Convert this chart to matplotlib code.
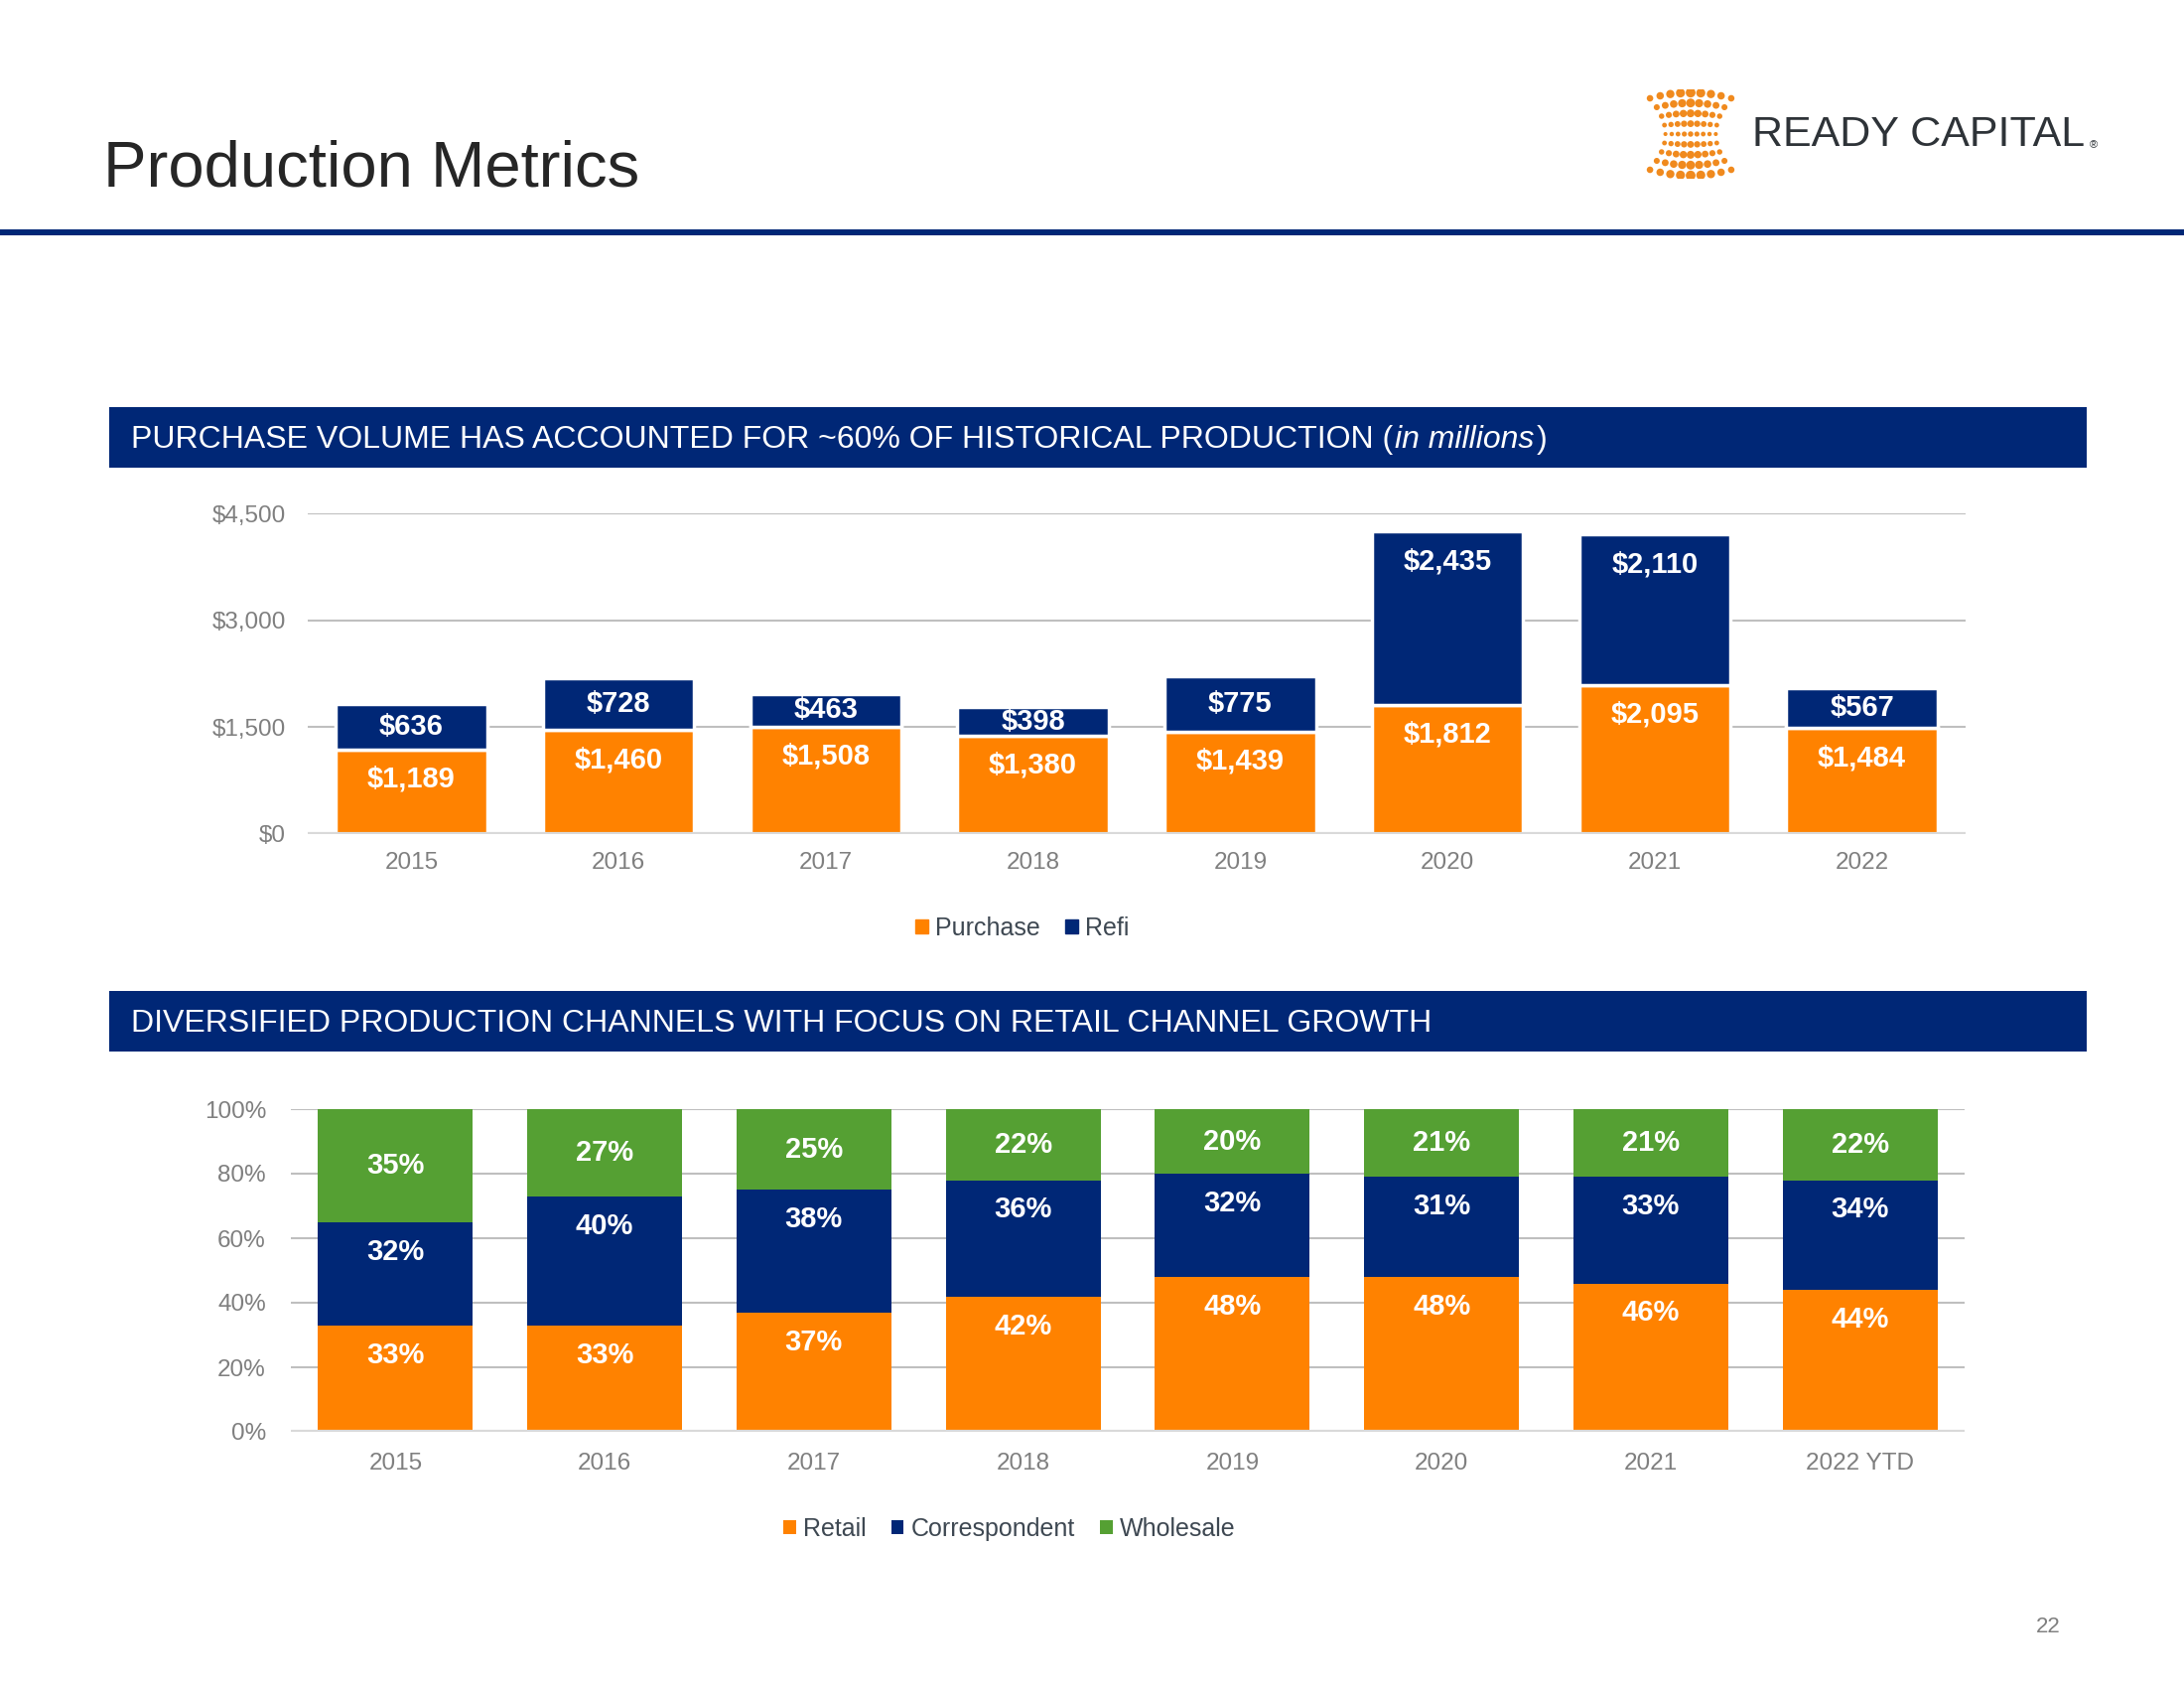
import numpy as np
import matplotlib
matplotlib.use("Agg")
import matplotlib.pyplot as plt
from matplotlib.patches import Rectangle, Patch
from matplotlib.ticker import FuncFormatter

# top chart: purchase / refi volume ($ millions)
years = ["2015", "2016", "2017", "2018", "2019", "2020", "2021", "2022"]
purchase = [1189, 1460, 1508, 1380, 1439, 1812, 2095, 1484]
refi = [636, 728, 463, 398, 775, 2435, 2110, 567]
vol_ticks = [0, 1500, 3000, 4500]

# bottom chart: channel mix (%)
channel_years = ["2015", "2016", "2017", "2018", "2019", "2020", "2021", "2022 YTD"]
retail = [33, 33, 37, 42, 48, 48, 46, 44]
correspondent = [32, 40, 38, 36, 32, 31, 33, 34]
wholesale = [35, 27, 25, 22, 20, 21, 21, 22]
pct_ticks = [0, 20, 40, 60, 80, 100]

ORANGE = "#FF8200"
NAVY = "#002776"
GREEN = "#55A033"
GRID = "#BFBFBF"
TICK = "#7F7F7F"
LEG = "#3E4852"

plt.rcParams["font.family"] = ["Liberation Sans", "DejaVu Sans"]

W, H = 2200, 1700
fig = plt.figure(figsize=(22, 17), dpi=100)
renderer = fig.canvas.get_renderer()


def box(x0, y0, x1, y1):
    # pixel box (top-left origin) -> figure fraction rect
    return [x0 / W, 1 - y1 / H, (x1 - x0) / W, (y1 - y0) / H]


def band(y0, y1):
    fig.add_artist(Rectangle((110 / W, 1 - y1 / H), (2102 - 110) / W, (y1 - y0) / H,
                             transform=fig.transFigure, color=NAVY, lw=0))


# page header
fig.text(104 / W, 1 - 188 / H, "Production Metrics", fontsize=47, color="#262626", va="baseline")
fig.add_artist(Rectangle((0, 1 - 237 / H), 1, 6 / H, transform=fig.transFigure, color=NAVY, lw=0))

# logo
lax = fig.add_axes(box(1658, 90, 1748, 180))
lax.axis("off")
u, v = np.meshgrid(np.linspace(-1, 1, 9), np.linspace(-1, 1, 9))
lx = u * (0.62 + 0.38 * v ** 2)
ly = v * (0.88 + 0.14 * (1 - u ** 2))
ls = 4 + 46 * (0.25 + 0.75 * np.abs(v)) * (1 - 0.6 * np.abs(u))
lax.scatter(lx.ravel(), ly.ravel(), s=ls.ravel(), color="#F08A1E", lw=0)
lax.set_xlim(-1.1, 1.1)
lax.set_ylim(-1.1, 1.1)
lt = fig.text(1765 / W, 1 - 136 / H, "READY CAPITAL", fontsize=31, color="#2E3338", va="center")
lx1 = lt.get_window_extent(renderer).x1
fig.text(lx1 / W + 0.002, 1 - 146 / H, "®", fontsize=8, color="#2E3338", va="center")

# section bands
band(410, 471)
t1 = fig.text(132 / W, 1 - 443 / H, "PURCHASE VOLUME HAS ACCOUNTED FOR ~60% OF HISTORICAL PRODUCTION (",
              fontsize=23, color="white", va="center")
x1 = t1.get_window_extent(renderer).x1
t2 = fig.text(x1 / W + 0.001, 1 - 443 / H, "in millions", fontsize=23, color="white",
              va="center", style="italic")
x2 = t2.get_window_extent(renderer).x1
fig.text(x2 / W + 0.001, 1 - 443 / H, ")", fontsize=23, color="white", va="center")

band(998, 1059)
fig.text(132 / W, 1 - 1031 / H, "DIVERSIFIED PRODUCTION CHANNELS WITH FOCUS ON RETAIL CHANNEL GROWTH",
         fontsize=23, color="white", va="center")


def style_axis(ax, ypad, xpad):
    for s in ax.spines.values():
        s.set_visible(False)
    ax.tick_params(axis="both", length=0, labelsize=17.5, labelcolor=TICK)
    ax.tick_params(axis="y", pad=ypad)
    ax.tick_params(axis="x", pad=xpad)
    ax.grid(axis="y", color=GRID, lw=1.5)
    ax.set_axisbelow(True)


def put_label(ax, x, bottom, height, text, mode, px_per_unit):
    top = bottom + height
    half_px = height * px_per_unit / 2
    if mode == "center" or (mode == "auto" and half_px < 30):
        y = bottom + height / 2
    else:
        y = top - 30 / px_per_unit
    ax.text(x, y, text, ha="center", va="center", color="white",
            fontsize=21, fontweight="bold")


legend_kw = dict(loc="center", frameon=False, fontsize=18, labelcolor=LEG, handlelength=0.5,
                 handleheight=0.5, handletextpad=0.3, columnspacing=1.0)

# ---- top chart ----
ax1 = fig.add_axes(box(310, 517, 1980, 840))
x = np.arange(len(years))
ax1.bar(x, purchase, width=0.73, color=ORANGE, edgecolor="white", lw=2.5)
ax1.bar(x, refi, width=0.73, bottom=purchase, color=NAVY, edgecolor="white", lw=2.5)
ax1.set_xlim(-0.5, len(years) - 0.5)
ax1.set_ylim(0, 4500)
ax1.set_yticks(vol_ticks)
ax1.yaxis.set_major_formatter(FuncFormatter(lambda v, p: f"${v:,.0f}"))
ax1.set_xticks(x)
ax1.set_xticklabels(years)
style_axis(ax1, 16, 13)
ax1.axhline(0, color="#D9D9D9", lw=3, zorder=1)
ppu1 = (840 - 517) / 4500
for i in range(len(years)):
    put_label(ax1, x[i], 0, purchase[i], f"${purchase[i]:,}", "top", ppu1)
    put_label(ax1, x[i], purchase[i], refi[i], f"${refi[i]:,}", "auto", ppu1)

fig.legend(handles=[Patch(color=ORANGE, label="Purchase"), Patch(color=NAVY, label="Refi")],
           bbox_to_anchor=(1030 / W, 1 - 935 / H), ncol=2, **legend_kw)

# ---- bottom chart ----
ax2 = fig.add_axes(box(293, 1117, 1979, 1442))
x2p = np.arange(len(channel_years))
r_bot = np.array(retail)
c_bot = r_bot + np.array(correspondent)
c1 = ax2.bar(x2p, retail, width=0.74, color=ORANGE, lw=0, label="Retail")
c2 = ax2.bar(x2p, correspondent, width=0.74, bottom=r_bot, color=NAVY, lw=0, label="Correspondent")
c3 = ax2.bar(x2p, wholesale, width=0.74, bottom=c_bot, color=GREEN, lw=0, label="Wholesale")
ax2.set_xlim(-0.5, len(channel_years) - 0.5)
ax2.set_ylim(0, 100)
ax2.set_yticks(pct_ticks)
ax2.yaxis.set_major_formatter(FuncFormatter(lambda v, p: f"{v:.0f}%"))
ax2.set_xticks(x2p)
ax2.set_xticklabels(channel_years)
style_axis(ax2, 18, 15)
ax2.axhline(0, color="#D9D9D9", lw=3, zorder=1)
ppu2 = (1442 - 1117) / 100
for i in range(len(channel_years)):
    put_label(ax2, x2p[i], 0, retail[i], f"{retail[i]}%", "top", ppu2)
    put_label(ax2, x2p[i], r_bot[i], correspondent[i], f"{correspondent[i]}%", "top", ppu2)
    put_label(ax2, x2p[i], c_bot[i], wholesale[i], f"{wholesale[i]}%", "center", ppu2)

fig.legend(handles=[c1, c2, c3], bbox_to_anchor=(1017 / W, 1 - 1540 / H), ncol=3, **legend_kw)

# page number
fig.text(2063 / W, 1 - 1639 / H, "22", fontsize=16, color=TICK, ha="center", va="center")

fig.savefig("out.png", dpi=100, facecolor="white")
